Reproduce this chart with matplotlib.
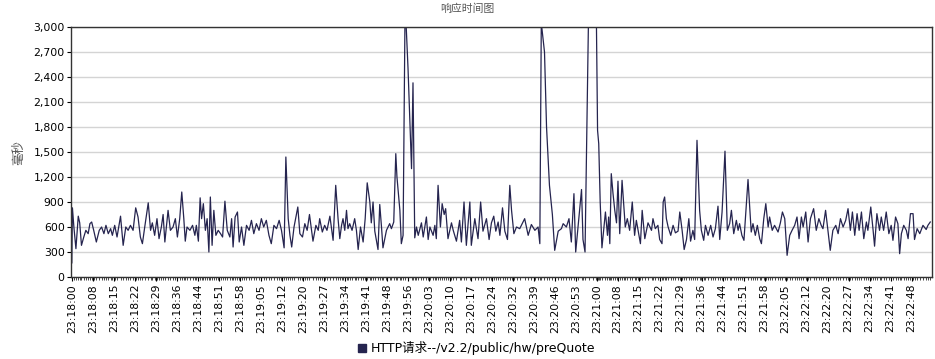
import matplotlib

matplotlib.use("Agg")
import matplotlib.pyplot as plt
import matplotlib.ticker as mticker
from matplotlib.lines import Line2D

plt.rcParams["font.family"] = ["DejaVu Sans", "Noto Sans CJK SC"]

# elapsed seconds since 23:18:00 and response time (ms)
t_sec = [
    0.0, 0.2, 0.7, 1.4, 2.2, 2.7, 3.3, 4.1, 4.8, 5.6, 6.2, 6.8, 7.5, 8.4, 9.4,
    10.2, 11.0, 11.7, 12.5, 13.3, 13.9, 14.7, 15.5, 16.7, 17.6, 18.5, 19.3,
    20.1, 21.0, 21.9, 22.7, 23.5, 24.2, 25.0, 26.2, 27.0, 27.6, 28.4, 29.2,
    29.9, 30.7, 31.3, 31.9, 33.0, 33.8, 34.7, 35.5, 36.2, 37.0, 37.7, 38.4,
    38.9, 39.5, 40.5, 41.4, 42.2, 42.7, 43.4, 44.0, 44.5, 45.1, 45.8, 46.4,
    47.0, 47.5, 48.1, 48.7, 49.4, 50.2, 51.0, 51.7, 52.5, 53.3, 54.2, 54.8,
    55.3, 56.0, 56.8, 57.4, 58.2, 59.0, 59.9, 60.8, 61.6, 62.4, 63.3, 64.2,
    65.0, 65.8, 66.7, 67.6, 68.4, 69.3, 70.2, 71.1, 71.9, 72.8, 73.4, 74.2,
    74.8, 75.4, 76.2, 77.5, 78.2, 79.1, 79.9, 80.7, 81.5, 82.7, 83.7, 84.5,
    85.0, 85.9, 86.7, 87.5, 88.5, 89.6, 90.5, 91.3, 91.9, 92.5, 93.0, 93.6,
    94.2, 94.7, 95.3, 96.1, 97.0, 97.6, 98.2, 99.0, 99.9, 100.6, 101.3, 102.2,
    102.7, 103.3, 103.9, 105.0, 105.6, 106.2, 106.7, 107.9, 109.0, 109.6,
    110.4, 111.1, 111.5, 112.5, 113.0, 113.6, 114.3, 115.3, 116.5, 117.0,
    117.6, 118.2, 118.8, 119.9, 120.5, 121.6, 122.2, 122.8, 123.9, 124.5,
    125.0, 125.6, 126.4, 127.0, 127.7, 128.2, 129.0, 130.2, 130.8, 131.9,
    133.0, 133.6, 134.5, 135.3, 136.5, 137.0, 138.2, 139.3, 140.2, 141.0,
    142.2, 143.1, 143.9, 144.7, 145.4, 146.2, 146.8, 147.7, 148.5, 149.4,
    150.2, 150.8, 151.6, 152.5, 153.6, 155.3, 156.5, 157.6, 158.8, 159.9,
    160.5, 161.0, 162.1, 162.8, 163.8, 164.8, 165.6, 166.8, 167.9, 168.5,
    169.6, 170.5, 171.3, 172.2, 172.8, 173.6, 174.8, 175.3, 176.0, 177.4,
    178.6, 179.8, 180.3, 180.7, 181.2, 181.8, 183.0, 183.7, 184.1, 184.5,
    185.0, 185.6, 186.2, 186.8, 187.3, 187.9, 188.7, 189.4, 189.8, 190.5,
    191.3, 192.2, 193.0, 193.6, 194.2, 195.0, 195.6, 196.5, 197.6, 198.8,
    199.3, 200.1, 201.0, 201.6, 202.4, 202.8, 203.3, 203.9, 204.5, 205.4,
    206.2, 207.0, 207.9, 208.5, 209.3, 210.0, 210.8, 211.6, 212.2, 213.0,
    213.6, 214.4, 215.3, 215.9, 216.7, 217.3, 218.2, 219.1, 219.9, 220.7,
    221.6, 222.2, 223.0, 224.0, 224.8, 225.6, 226.2, 227.0, 227.9, 228.5,
    229.0, 229.8, 230.5, 231.9, 233.0, 233.6, 234.4, 235.1, 235.9, 236.5,
    237.3, 238.0, 238.8, 239.3, 240.2, 241.0, 242.2, 243.0, 243.7, 244.5,
    245.3, 246.2, 247.0, 247.9, 248.7, 249.4, 250.2, 250.8, 251.7, 252.5,
    253.3, 254.4, 255.3, 256.2, 257.0, 257.6, 258.5, 259.3, 260.1, 261.0,
    262.0, 262.8, 263.6, 264.5, 265.4, 266.2, 267.0, 267.7, 268.5, 269.3,
    270.0, 270.8, 271.6, 272.5, 273.0, 274.0, 274.8, 275.3, 276.1, 277.0,
    277.6, 278.4, 279.3, 280.2, 281.0, 281.6, 282.5, 283.3, 283.9, 284.5,
    285.3, 286.2, 286.8, 287.6, 288.5, 289.0, 289.9, 290.8, 291.9, 293.0,
    293.6, 294.4,
]
resp_ms = [
    170, 830, 600, 340, 730, 650, 380, 480, 560, 520, 640, 660, 560, 420, 560,
    600, 520, 620, 520, 580, 500, 620, 480, 730, 380, 600, 560,
    620, 560, 830, 720, 480, 400, 600, 890, 560, 650, 500, 700,
    460, 600, 750, 420, 800, 560, 600, 700, 480, 700, 1020, 700,
    430, 600, 560, 620, 500, 620, 430, 950, 700, 880, 560, 700,
    300, 960, 380, 800, 500, 560, 520, 480, 910, 560, 480, 700,
    360, 720, 780, 420, 600, 380, 620, 560, 680, 520, 640, 560,
    700, 600, 680, 500, 400, 620, 580, 680, 560, 350, 1440, 700,
    500, 360, 600, 840, 520, 480, 640, 560, 750, 430, 620, 560,
    700, 540, 620, 560, 730, 440, 1100, 700, 460, 620, 700, 560,
    800, 580, 640, 560, 700, 560, 330, 600, 420, 700, 1130, 900,
    650, 900, 550, 330, 870, 600, 350, 560, 640, 580,
    660, 1480, 1200, 800, 400, 500, 3300, 2500, 1300, 2330,
    470, 600, 500, 650, 480, 720, 450, 600, 500, 620,
    460, 1100, 600, 880, 750, 820, 460, 650, 560, 430,
    680, 420, 900, 380, 900, 380, 700, 460, 900, 550,
    700, 450, 650, 730, 550, 660, 500, 830, 550, 450,
    1100, 800, 520, 600, 580, 700, 500, 630, 560, 600,
    400, 3050, 2700, 1800, 1100, 750, 320, 550, 580, 640,
    600, 700, 420, 1000, 300, 600, 1050, 450, 300, 3600,
    4000, 3400, 1760, 1600, 900, 350, 780, 500, 720, 400,
    1240, 1000, 800, 650, 1150, 520, 1160, 800, 600, 700,
    560, 900, 500, 680, 560, 400, 800, 460, 650, 560,
    700, 580, 620, 450, 400, 900, 960, 700, 600, 500,
    620, 530, 550, 780, 560, 330, 450, 700, 430, 560,
    450, 1640, 800, 560, 440, 620, 500, 620, 480, 580,
    850, 450, 780, 1510, 560, 640, 800, 520, 680, 560,
    640, 500, 440, 1170, 540, 640, 500, 620, 460, 400,
    700, 880, 600, 720, 560, 620, 540, 650, 780, 700,
    260, 500, 560, 620, 720, 460, 720, 600, 780, 420,
    700, 820, 560, 700, 620, 580, 800, 560, 320, 560,
    620, 520, 700, 600, 680, 820, 560, 780, 500, 760,
    560, 780, 460, 660, 560, 840, 560, 370, 760, 560,
    720, 560, 780, 520, 620, 440, 720, 640, 280, 520,
    620, 560, 460, 760, 760, 450, 580, 520, 620, 570,
    620, 660,
]

tick_labels = [
    "23:18:00", "23:18:08", "23:18:15", "23:18:22", "23:18:29", "23:18:36",
    "23:18:44", "23:18:51", "23:18:58", "23:19:05", "23:19:12", "23:19:20",
    "23:19:27", "23:19:34", "23:19:41", "23:19:48", "23:19:56", "23:20:03",
    "23:20:10", "23:20:17", "23:20:24", "23:20:32", "23:20:39", "23:20:46",
    "23:20:53", "23:21:00", "23:21:08", "23:21:15", "23:21:22", "23:21:29",
    "23:21:36", "23:21:44", "23:21:51", "23:21:58", "23:22:05", "23:22:12",
    "23:22:20", "23:22:27", "23:22:34", "23:22:41", "23:22:48",
]
TICK_STEP = 7.2  # seconds between labelled ticks

series_name = "HTTP请求--/v2.2/public/hw/preQuote"
LINE_COLOR = "#25244f"

fig = plt.figure(figsize=(9.35, 3.59), dpi=100)
ax = fig.add_axes([0.0759, 0.2284, 0.9209, 0.6964])

ax.plot(t_sec, resp_ms, color=LINE_COLOR, linewidth=0.9)

ax.set_ylim(0, 3000)
ax.set_xlim(-0.3, 295.0)
ax.yaxis.set_major_locator(mticker.MultipleLocator(300))
ax.yaxis.set_major_formatter(mticker.StrMethodFormatter("{x:,.0f}"))
ax.grid(True, axis="y", color="#d4d4d4", linewidth=1.0)
ax.set_axisbelow(True)

ax.set_xticks([i * TICK_STEP for i in range(len(tick_labels))])
ax.set_xticklabels(tick_labels, rotation=90)
ax.set_xticks(t_sec, minor=True)
ax.tick_params(axis="x", which="major", length=3, width=0.8, labelsize=7.8, pad=2)
ax.tick_params(axis="x", which="minor", length=2, width=0.5)
ax.tick_params(axis="y", length=3, width=0.8, labelsize=7.8, pad=1.5)

for sp in ax.spines.values():
    sp.set_color("#333333")
    sp.set_linewidth(1.0)

ax.set_ylabel("毫秒", fontsize=9, color="#555555", labelpad=6)
fig.text(0.5, 0.977, "响应时间图", ha="center", va="center", fontsize=7.8, color="#555555")

handle = Line2D([], [], linestyle="none", marker="s", markersize=5.5, color=LINE_COLOR)
fig.legend([handle], [series_name], loc="center", bbox_to_anchor=(0.509, 0.03),
           frameon=False, fontsize=9, handletextpad=0.2, handlelength=1.0)

fig.savefig("out.png", dpi=100)
